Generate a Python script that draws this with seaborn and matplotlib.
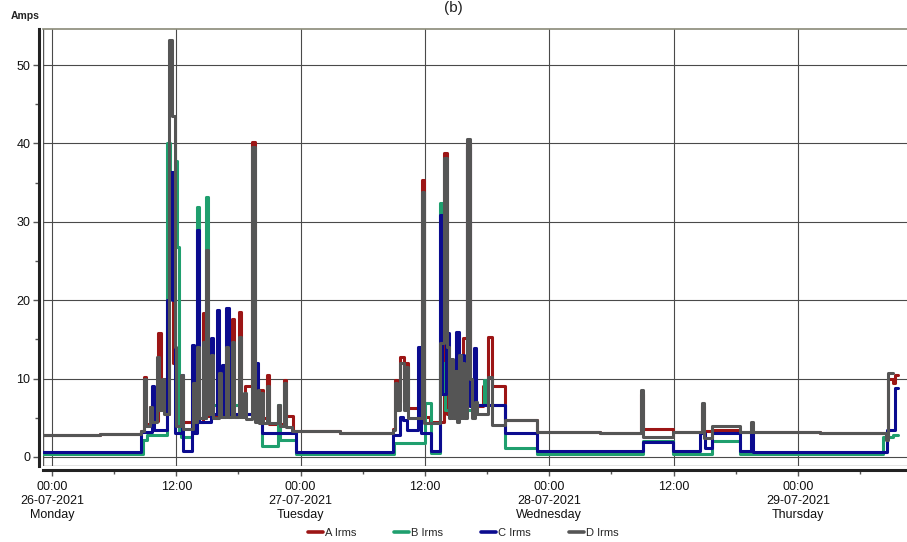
import matplotlib
matplotlib.use("Agg")
import matplotlib.pyplot as plt
import matplotlib.dates as mdates
from matplotlib.lines import Line2D
from matplotlib.ticker import FuncFormatter, MultipleLocator
import pandas as pd
import seaborn as sns

START = pd.Timestamp("2021-07-26 00:00")

SERIES = ["A Irms", "B Irms", "C Irms", "D Irms"]
COLORS = ["#9c1515", "#1f9f6e", "#0b0b8f", "#555555"]

# Logged current, stored as step change points:
# hours after 26-07-2021 00:00 and the RMS current (A) from that moment on.
a_hours = [-0.87, 4.63, 8.59, 8.88, 9.07, 9.46, 9.65, 10.23, 10.52, 10.81, 11.00, 11.34,
           11.68, 11.97, 14.53, 14.72, 17.37, 17.57, 18.05, 18.24, 18.63, 19.31, 19.55,
           20.37, 20.75, 20.95, 22.39, 22.59, 23.26, 27.80, 32.92, 33.11, 33.30, 33.59,
           33.98, 34.17, 34.36, 35.67, 35.91, 36.49, 37.79, 38.08, 39.67, 40.06, 40.35,
           41.60, 42.08, 42.47, 43.73, 46.81, 52.90, 56.85, 57.09, 59.94, 62.74, 62.93,
           63.71, 66.41, 74.13, 80.50, 80.69, 81.18, 81.37, 81.66]
a_amps = [2.8, 2.9, 3.3, 10.2, 4.2, 6.4, 4.6, 15.8, 6.5, 10.0, 5.5, 23.5,
          12.0, 4.5, 18.4, 5.2, 17.6, 5.2, 18.5, 6.0, 9.0, 40.2, 8.5,
          5.0, 10.5, 4.2, 9.8, 5.2, 3.3, 3.1, 3.6, 9.8, 7.0, 12.8,
          7.0, 12.0, 6.2, 35.3, 5.1, 4.5, 38.8, 5.5, 15.2, 40.0, 6.5,
          9.0, 15.3, 9.0, 4.7, 3.2, 3.1, 8.0, 3.6, 3.2, 6.5, 3.3,
          3.5, 3.2, 3.1, 2.5, 10.0, 9.5, 10.4, 10.4]

b_hours = [-0.87, 8.78, 9.17, 11.10, 11.39, 11.87, 12.07, 12.26, 12.45, 13.51, 14.00,
           14.19, 14.82, 15.06, 18.63, 20.27, 21.81, 22.01, 23.55, 33.01, 36.00,
           36.58, 37.45, 37.69, 37.93, 40.93, 41.70, 41.99, 43.73, 46.81, 57.05,
           59.94, 63.71, 66.41, 80.21, 81.18, 81.66]
b_amps = [0.4, 2.2, 2.8, 40.0, 30.0, 37.7, 26.8, 3.0, 2.6, 5.0, 31.9,
          5.0, 33.2, 6.6, 5.5, 1.4, 6.6, 2.2, 0.4, 1.8, 6.9,
          0.5, 32.4, 12.0, 6.0, 6.6, 9.8, 6.6, 1.1, 0.4, 2.0,
          0.4, 2.0, 0.4, 2.6, 2.8, 2.8]

c_hours = [-0.87, 8.59, 9.65, 9.85, 11.10, 11.39, 11.68, 11.87, 12.55, 12.69, 13.51,
           13.71, 14.00, 14.19, 15.35, 15.54, 15.93, 16.12, 16.41, 16.60, 16.84,
           17.04, 19.64, 19.84, 20.27, 23.55, 32.92, 33.59, 33.88, 34.27, 35.33,
           35.57, 36.63, 37.45, 37.69, 38.03, 38.32, 38.51, 38.71, 39.00, 39.29,
           39.58, 39.77, 40.06, 40.35, 40.73, 40.97, 43.73, 46.81, 57.05, 59.94,
           62.55, 63.03, 63.71, 66.41, 67.47, 67.66, 80.60, 81.37, 81.66]
c_amps = [0.6, 3.2, 9.0, 3.5, 20.0, 36.4, 20.0, 3.0, 10.4, 0.7, 14.3,
          3.0, 29.0, 4.5, 15.2, 5.5, 18.7, 5.5, 11.7, 5.5, 19.0,
          5.5, 12.0, 5.5, 3.0, 0.6, 2.8, 5.1, 4.7, 3.4, 14.0,
          3.0, 0.7, 30.9, 8.0, 15.8, 6.0, 11.0, 6.0, 16.0, 6.0,
          13.0, 6.0, 39.5, 6.5, 13.9, 6.6, 3.0, 0.7, 1.9, 0.7,
          3.0, 1.1, 3.0, 0.7, 3.0, 0.6, 3.5, 8.8, 8.8]

d_hours = [-0.87, 4.63, 8.59, 8.88, 9.07, 9.46, 9.65, 10.14, 10.33, 10.62, 10.81,
           11.34, 11.63, 11.87, 11.97, 12.45, 12.64, 13.61, 13.80, 14.00, 14.19,
           14.53, 14.72, 14.82, 15.06, 15.35, 15.54, 16.12, 16.31, 16.80, 16.99,
           17.37, 17.57, 18.05, 18.24, 18.53, 18.73, 19.31, 19.55, 19.84, 20.00,
           20.22, 20.37, 20.75, 20.95, 21.81, 22.01, 22.39, 22.59, 23.17, 27.80,
           32.92, 33.11, 33.30, 33.59, 33.98, 34.17, 34.36, 35.67, 35.91, 37.45,
           37.79, 38.08, 38.32, 38.51, 38.71, 38.90, 39.09, 39.29, 39.48, 39.58,
           39.77, 40.06, 40.35, 40.54, 40.83, 41.02, 42.08, 42.47, 43.73, 46.81,
           52.90, 56.85, 57.09, 59.94, 62.74, 62.93, 63.71, 66.41, 67.47, 67.66,
           74.13, 80.50, 80.69, 81.18]
d_amps = [2.8, 2.9, 3.3, 10.0, 4.0, 6.4, 4.5, 12.8, 6.0, 10.0, 5.5,
          53.2, 43.5, 14.0, 4.0, 10.5, 3.6, 9.5, 4.5, 14.0, 5.0,
          14.7, 5.0, 26.4, 5.5, 13.0, 5.0, 10.7, 5.1, 14.0, 5.1,
          14.7, 5.1, 15.3, 5.1, 8.1, 4.8, 39.5, 4.5, 8.5, 4.3,
          8.1, 4.3, 9.0, 4.3, 6.6, 4.0, 9.4, 3.8, 3.3, 3.1,
          3.5, 9.4, 6.0, 12.0, 6.0, 11.5, 5.0, 33.8, 4.3, 14.5,
          38.2, 14.0, 5.0, 12.5, 5.0, 11.0, 4.5, 13.0, 5.0, 12.0,
          5.0, 40.6, 10.0, 5.0, 7.0, 5.5, 10.2, 4.1, 4.7, 3.2,
          3.1, 8.5, 2.5, 3.2, 6.9, 2.4, 3.9, 3.2, 4.5, 3.2,
          3.1, 2.2, 10.7, 10.7]

Y_TICKS = [0, 10, 20, 30, 40, 50]

frames = []
for name, hrs, amps in zip(SERIES,
                           [a_hours, b_hours, c_hours, d_hours],
                           [a_amps, b_amps, c_amps, d_amps]):
    frames.append(pd.DataFrame({
        "time": START + pd.to_timedelta(hrs, unit="h"),
        "amps": amps,
        "series": name,
    }))
df = pd.concat(frames, ignore_index=True)

sns.set_style("ticks")
plt.rcParams["font.family"] = ["Liberation Sans", "DejaVu Sans"]

fig = plt.figure(figsize=(9.07, 5.42), dpi=100)
ax = fig.add_axes([43 / 907, 76 / 542, 1 - 43 / 907, 437 / 542])

sns.lineplot(data=df, x="time", y="amps", hue="series", hue_order=SERIES,
             palette=dict(zip(SERIES, COLORS)), estimator=None, sort=False,
             drawstyle="steps-post", linewidth=2.2, legend=False, ax=ax)

x0 = START + pd.Timedelta(hours=-0.87)
x1 = START + pd.Timedelta(hours=82.53)
ax.set_xlim(x0, x1)
ax.set_ylim(-1.15, 54.6)
ax.set_xlabel("")
ax.set_ylabel("")

# axes ticks and grid
ax.yaxis.set_minor_locator(MultipleLocator(5))
ax.set_yticks(Y_TICKS)
ax.xaxis.set_major_locator(mdates.HourLocator(byhour=[0, 12]))
ax.xaxis.set_minor_locator(mdates.HourLocator(byhour=[6, 18]))


def time_label(x, pos):
    d = pd.Timestamp(mdates.num2date(x)).round("min")
    if d.hour == 0:
        return f"{d:%H:%M}\n{d:%d-%m-%Y}\n{d:%A}"
    return f"{d:%H:%M}"


ax.xaxis.set_major_formatter(FuncFormatter(time_label))
ax.grid(True, which="major", color="#4a4a4a", linewidth=0.8)
ax.set_axisbelow(True)

ax.tick_params(axis="both", which="major", direction="out", length=4, width=1,
               color="#555555", labelsize=9, labelcolor="#111111")
ax.tick_params(axis="both", which="minor", direction="out", length=3, width=1,
               color="#555555")
ax.tick_params(axis="x", which="major", pad=4)
ax.tick_params(axis="y", which="major", pad=2)
for lab in ax.get_xticklabels():
    lab.set_linespacing(1.15)

# frame: thick outer axes, thin plot border
for side in ["left", "bottom"]:
    ax.spines[side].set_position(("outward", 3))
    ax.spines[side].set_linewidth(2.2)
    ax.spines[side].set_color("#222222")
ax.spines["right"].set_visible(False)
ax.spines["top"].set_linewidth(1.2)
ax.spines["top"].set_color("#8a8a78")
ax.axhline(-1.15, color="#777777", linewidth=1.0, zorder=0.5)
ax.axvline(x0, color="#555555", linewidth=1.0, zorder=0.5)

fig.text(25 / 907, 1 - 16 / 542, "Amps", ha="center", va="center",
         fontsize=7.5, fontweight="bold", color="#222222")
fig.text(0.5, 1 - 1 / 542, "(b)", ha="center", va="top", fontsize=11,
         color="#222222")

handles = [Line2D([0], [0], color=c, linewidth=2.6) for c in COLORS]
fig.legend(handles, SERIES, loc="center", bbox_to_anchor=(463 / 907, 1 - 533 / 542),
           ncol=4, frameon=False, fontsize=8, handlelength=1.35,
           handletextpad=0.2, columnspacing=3.4)

fig.savefig("out.png", dpi=100)
